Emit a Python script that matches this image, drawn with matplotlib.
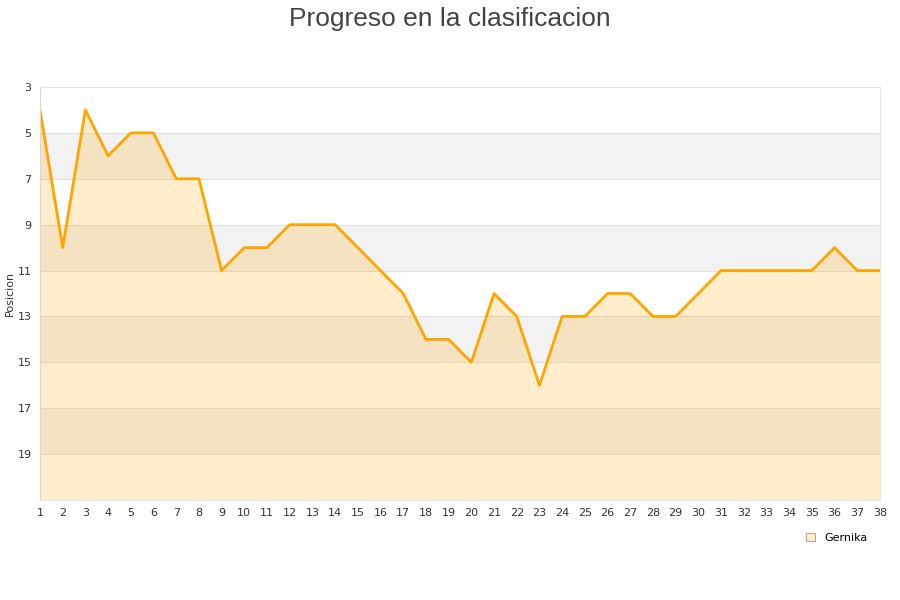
import matplotlib.pyplot as plt
import matplotlib.patches as mpatches
import numpy as np

jornadas = list(range(1, 39))
posicion = [4, 10, 4, 6, 5, 5, 7, 7, 11, 10, 10, 9, 9, 9, 10, 11, 12, 14, 14, 15,
            12, 13, 16, 13, 13, 12, 12, 13, 13, 12, 11, 11, 11, 11, 11, 10, 11, 11]
equipo = "Gernika"
y_ticks = [3, 5, 7, 9, 11, 13, 15, 17, 19]

fig = plt.figure(figsize=(9, 6), dpi=100)
ax = fig.add_axes([40 / 900, 1 - 500 / 600, 840 / 900, 413 / 600])

# bandas alternas
for i, lo in enumerate(range(3, 21, 2)):
    if i % 2 == 1:
        ax.axhspan(lo, lo + 2, color='#f2f2f2', zorder=0, lw=0)
for t in y_ticks[1:]:
    ax.axhline(t, color='#e0e0e0', lw=0.8, zorder=0.5)

ax.fill_between(jornadas, posicion, 21, color='orange', alpha=0.2, lw=0, zorder=1)
ax.plot(jornadas, posicion, color='orange', lw=2, zorder=2)

ax.set_xlim(1, 38)
ax.set_ylim(21, 3)
ax.set_xticks(jornadas)
ax.set_yticks(y_ticks)
ax.tick_params(length=0, labelsize=8, colors='#333333', pad=6)
for s in ['top', 'right']:
    ax.spines[s].set_color('#e6e6e6')
ax.spines['left'].set_color('#d8d8d8')
ax.spines['bottom'].set_color('#e6e6e6')
ax.set_ylabel("Posicion", fontsize=8, color='#333333', labelpad=2)

fig.text(0.5, 0.988, "Progreso en la clasificacion", ha='center', va='top',
         fontsize=19, color='#444444', family='Liberation Sans')

handle = mpatches.Patch(facecolor='#ffedcc', edgecolor='#b8a888', lw=0.8, label=equipo)
fig.legend(handles=[handle], loc='center right', bbox_to_anchor=(0.975, 0.104),
           frameon=False, fontsize=8, handlelength=0.8, handleheight=0.8)

fig.savefig("out.png", dpi=100)
